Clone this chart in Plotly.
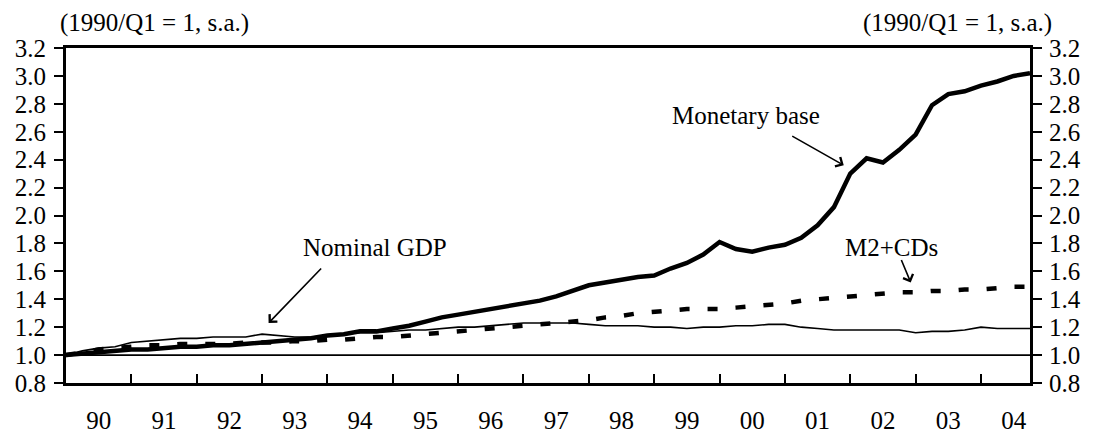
import plotly.graph_objects as go

quarters = [f"{y}Q{q}" for y in range(1990, 2005) for q in range(1, 5)]
idx = list(range(len(quarters)))

monetary_base = [1.00, 1.01, 1.02, 1.03, 1.04, 1.04, 1.05, 1.06, 1.06, 1.07, 1.07, 1.08,
                 1.09, 1.10, 1.11, 1.12, 1.14, 1.15, 1.17, 1.17, 1.19, 1.21, 1.24, 1.27,
                 1.29, 1.31, 1.33, 1.35, 1.37, 1.39, 1.42, 1.46, 1.50, 1.52, 1.54, 1.56,
                 1.57, 1.62, 1.66, 1.72, 1.81, 1.76, 1.74, 1.77, 1.79, 1.84, 1.93, 2.06,
                 2.30, 2.41, 2.38, 2.47, 2.58, 2.79, 2.87, 2.89, 2.93, 2.96, 3.00, 3.02]

nominal_gdp = [1.00, 1.03, 1.05, 1.06, 1.09, 1.10, 1.11, 1.12, 1.12, 1.13, 1.13, 1.13,
               1.15, 1.14, 1.13, 1.13, 1.14, 1.15, 1.16, 1.16, 1.17, 1.18, 1.18, 1.19,
               1.20, 1.20, 1.21, 1.22, 1.23, 1.23, 1.23, 1.23, 1.22, 1.21, 1.21, 1.21,
               1.20, 1.20, 1.19, 1.20, 1.20, 1.21, 1.21, 1.22, 1.22, 1.20, 1.19, 1.18,
               1.18, 1.18, 1.18, 1.18, 1.16, 1.17, 1.17, 1.18, 1.20, 1.19, 1.19, 1.19]

m2_cds = [1.00, 1.02, 1.04, 1.05, 1.06, 1.07, 1.07, 1.08, 1.08, 1.08, 1.08, 1.09,
          1.09, 1.09, 1.10, 1.10, 1.11, 1.11, 1.12, 1.13, 1.13, 1.14, 1.15, 1.16,
          1.17, 1.18, 1.19, 1.20, 1.21, 1.22, 1.23, 1.24, 1.25, 1.27, 1.28, 1.30,
          1.31, 1.32, 1.33, 1.33, 1.33, 1.34, 1.35, 1.36, 1.37, 1.39, 1.40, 1.41,
          1.42, 1.43, 1.44, 1.45, 1.45, 1.46, 1.46, 1.47, 1.47, 1.48, 1.49, 1.49]

year_labels = ["90", "91", "92", "93", "94", "95", "96", "97", "98", "99", "00", "01", "02", "03", "04"]
y_ticks = [0.8, 1.0, 1.2, 1.4, 1.6, 1.8, 2.0, 2.2, 2.4, 2.6, 2.8, 3.0, 3.2]
unit_label = "(1990/Q1 = 1, s.a.)"

FONT = "Liberation Serif, Times New Roman, serif"
FS = 25

fig = go.Figure()
fig.add_trace(go.Scatter(x=idx, y=nominal_gdp, mode="lines", name="Nominal GDP",
                         line=dict(color="black", width=1.6)))
fig.add_trace(go.Scatter(x=idx, y=m2_cds, mode="lines", name="M2+CDs",
                         line=dict(color="black", width=4.5, dash="10px,18px")))
fig.add_trace(go.Scatter(x=idx, y=monetary_base, mode="lines", name="Monetary base",
                         line=dict(color="black", width=4.5)))
fig.add_trace(go.Scatter(x=idx, y=monetary_base, mode="lines", yaxis="y2",
                         line=dict(color="rgba(0,0,0,0)", width=0), hoverinfo="skip",
                         showlegend=False))

label_pos = [4 * k + 2 for k in range(len(year_labels))]
boundaries = [4 * k for k in range(1, len(year_labels))]

fig.update_layout(
    width=1086, height=428,
    margin=dict(l=58, r=64, t=40, b=53),
    paper_bgcolor="white", plot_bgcolor="white",
    showlegend=False,
    font=dict(family=FONT, size=FS, color="black"),
    xaxis=dict(
        range=[0, 59], tickmode="array", tickvals=label_pos, ticktext=year_labels,
        ticks="", showgrid=False, zeroline=False, automargin=False,
        showline=True, linecolor="black", linewidth=2.5, mirror=True,
        ticklabelstandoff=13,
        minor=dict(tickmode="array", tickvals=boundaries, ticks="inside",
                   ticklen=9, tickwidth=2, tickcolor="black", showgrid=False),
        tickfont=dict(family=FONT, size=FS),
    ),
    yaxis=dict(
        range=[0.8, 3.2], tickmode="array", tickvals=y_ticks,
        ticktext=[f"{v:.1f}" for v in y_ticks],
        ticks="outside", ticklen=9, tickwidth=2, tickcolor="black",
        showgrid=False, zeroline=False, automargin=False,
        showline=True, linecolor="black", linewidth=3, ticklabelstandoff=3,
        tickfont=dict(family=FONT, size=FS),
    ),
    yaxis2=dict(
        range=[0.8, 3.2], tickmode="array", tickvals=y_ticks,
        ticktext=[f"{v:.1f}" for v in y_ticks],
        overlaying="y", side="right", automargin=False,
        ticks="outside", ticklen=9, tickwidth=2, tickcolor="black",
        showgrid=False, zeroline=False, ticklabelstandoff=2,
        showline=True, linecolor="black", linewidth=3,
        tickfont=dict(family=FONT, size=FS),
    ),
)

fig.add_shape(type="line", xref="paper", yref="y", x0=0, x1=1, y0=1.0, y1=1.0,
              line=dict(color="black", width=1.8))

fig.add_annotation(xref="paper", yref="paper", x=0.0923, y=1.0, yshift=25,
                   text=unit_label, showarrow=False, xanchor="center", yanchor="middle",
                   font=dict(family=FONT, size=FS))
fig.add_annotation(xref="paper", yref="paper", x=0.925, y=1.0, yshift=25,
                   text=unit_label, showarrow=False, xanchor="center", yanchor="middle",
                   font=dict(family=FONT, size=FS))

# series labels
fig.add_annotation(x=41.6, y=2.72, text="Monetary base", showarrow=False,
                   font=dict(family=FONT, size=FS))
fig.add_annotation(x=18.9, y=1.77, text="Nominal GDP", showarrow=False,
                   font=dict(family=FONT, size=FS))
fig.add_annotation(x=50.5, y=1.77, text="M2+CDs", showarrow=False,
                   font=dict(family=FONT, size=FS))

# arrows
arrow_style = dict(showarrow=True, arrowhead=4, arrowsize=1.3, arrowwidth=1.6,
                   arrowcolor="black", text="")
fig.add_annotation(x=47.6, y=2.36, ax=-53, ay=-30, **arrow_style)
fig.add_annotation(x=12.4, y=1.23, ax=54, ay=-56, **arrow_style)
fig.add_annotation(x=51.7, y=1.52, ax=-10, ay=-24, **arrow_style)

fig.write_html("out.html")
